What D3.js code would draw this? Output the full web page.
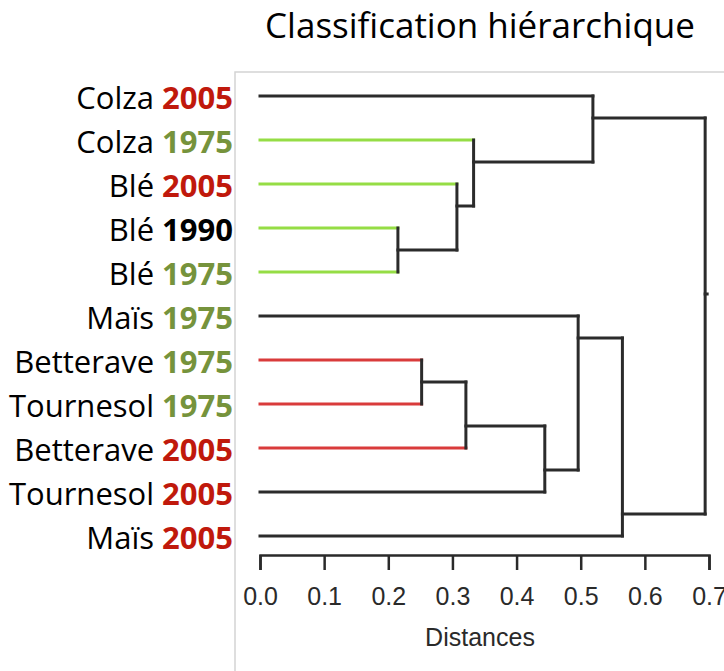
<!DOCTYPE html>
<html>

<head>
    <meta charset='utf-8' />
    <title>Classification hiérarchique</title>
    <script src="https://d3js.org/d3.v7.min.js" charset="utf-8"></script>
    <style>
        body {
            margin: 0;
            background: #fff;
        }

        .title {
            font-family: "Open Sans", sans-serif;
            font-size: 35px;
            fill: #000;
        }

        .leaf {
            font-family: "Open Sans", sans-serif;
            font-size: 31px;
            fill: #000;
        }

        .leaf .year {
            font-weight: bold;
        }

        .axis text,
        .axis-label {
            font-family: "Liberation Sans", Arial, sans-serif;
            font-size: 25px;
            fill: #2a2a2a;
        }

        .axis path,
        .axis line {
            fill: none;
            stroke: #2a2a2a;
            stroke-width: 2.5px;
        }

        .link {
            fill: none;
            stroke-width: 3px;
            stroke-linecap: square;
        }
    </style>
</head>

<body>

    <div id="graphic"></div>

    <script>
        // leaves, top to bottom
        var crops = ["Colza", "Colza", "Blé", "Blé", "Blé", "Maïs", "Betterave", "Tournesol", "Betterave", "Tournesol", "Maïs"];
        var years = ["2005", "1975", "2005", "1990", "1975", "1975", "1975", "1975", "2005", "2005", "2005"];
        // colour group of each leaf branch
        var groups = ["none", "green", "green", "green", "green", "none", "red", "red", "red", "none", "none"];

        // merges: ids 0-10 are leaves, merge k gets id 11 + k
        var mergeLeft = [3, 2, 1, 0, 6, 15, 16, 5, 18, 14];
        var mergeRight = [4, 11, 12, 13, 7, 8, 9, 17, 10, 19];
        var mergeHeight = [0.215, 0.307, 0.333, 0.519, 0.252, 0.321, 0.444, 0.496, 0.565, 0.694];

        var xTicks = [0, 0.1, 0.2, 0.3, 0.4, 0.5, 0.6, 0.7];

        var yearColor = { "2005": "#c0190c", "1975": "#76933c", "1990": "#000" };
        var branchColor = { "none": "#2b2b2b", "green": "#95dd45", "red": "#d93b3b" };

        var W = 724, H = 671;

        var svg = d3.select("#graphic").append("svg")
            .attr("width", W)
            .attr("height", H);

        // light frame of the original picture
        svg.append("path")
            .attr("d", "M235," + H + "V72H" + W)
            .attr("fill", "none")
            .attr("stroke", "#d4d4d4")
            .attr("stroke-width", 1.5);

        svg.append("text")
            .attr("class", "title")
            .attr("x", 480)
            .attr("y", 38)
            .attr("text-anchor", "middle")
            .text("Classification hiérarchique");

        var x = d3.scaleLinear()
            .domain([0, 0.7])
            .range([260, 709]);

        var y = d3.scalePoint()
            .domain(d3.range(crops.length))
            .range([96, 536]);

        // node table: leaves then merges
        var nodes = crops.map(function (c, i) {
            return { id: i, h: 0, y: y(i), first: i, last: i, group: groups[i] };
        });
        mergeHeight.forEach(function (h, k) {
            var a = nodes[mergeLeft[k]], b = nodes[mergeRight[k]];
            nodes.push({
                id: 11 + k,
                h: h,
                // node sits between the two clusters
                y: (y(a.last) + y(b.first)) / 2,
                first: a.first,
                last: b.last,
                left: a,
                right: b
            });
        });

        var links = [];
        nodes.forEach(function (n) {
            if (!n.left) return;
            [n.left, n.right].forEach(function (c) {
                links.push({ x0: c.h, x1: n.h, y: c.y, group: c.group || "none" });
            });
        });

        var g = svg.append("g");

        g.selectAll(".hlink")
            .data(links)
            .enter()
            .append("line")
            .attr("class", "link")
            .attr("x1", function (d) { return x(d.x0); })
            .attr("x2", function (d) { return x(d.x1); })
            .attr("y1", function (d) { return d.y; })
            .attr("y2", function (d) { return d.y; })
            .attr("stroke", function (d) { return branchColor[d.group]; });

        g.selectAll(".vlink")
            .data(nodes.filter(function (n) { return n.left; }))
            .enter()
            .append("line")
            .attr("class", "link")
            .attr("x1", function (d) { return x(d.h); })
            .attr("x2", function (d) { return x(d.h); })
            .attr("y1", function (d) { return d.left.y; })
            .attr("y2", function (d) { return d.right.y; })
            .attr("stroke", branchColor.none);

        // small stub at the root
        var root = nodes[nodes.length - 1];
        g.append("line")
            .attr("class", "link")
            .attr("x1", x(root.h))
            .attr("x2", x(root.h) + 2)
            .attr("y1", root.y)
            .attr("y2", root.y)
            .attr("stroke", branchColor.none);

        // leaf labels
        var labels = svg.selectAll(".leaf")
            .data(crops)
            .enter()
            .append("text")
            .attr("class", "leaf")
            .attr("x", 233)
            .attr("y", function (d, i) { return y(i) + 13; })
            .attr("text-anchor", "end");

        labels.append("tspan")
            .text(function (d) { return d + " "; });

        labels.append("tspan")
            .attr("class", "year")
            .style("fill", function (d, i) { return yearColor[years[i]]; })
            .text(function (d, i) { return years[i]; });

        // distance axis
        var xAxis = d3.axisBottom(x)
            .tickValues(xTicks)
            .tickSizeInner(15)
            .tickSizeOuter(15)
            .tickPadding(17)
            .tickFormat(d3.format(".1f"));

        var gx = svg.append("g")
            .attr("class", "axis")
            .attr("transform", "translate(0,555)")
            .call(xAxis);

        svg.append("text")
            .attr("class", "axis-label")
            .attr("x", 480)
            .attr("y", 646)
            .attr("text-anchor", "middle")
            .text("Distances");
    </script>

</body>

</html>
